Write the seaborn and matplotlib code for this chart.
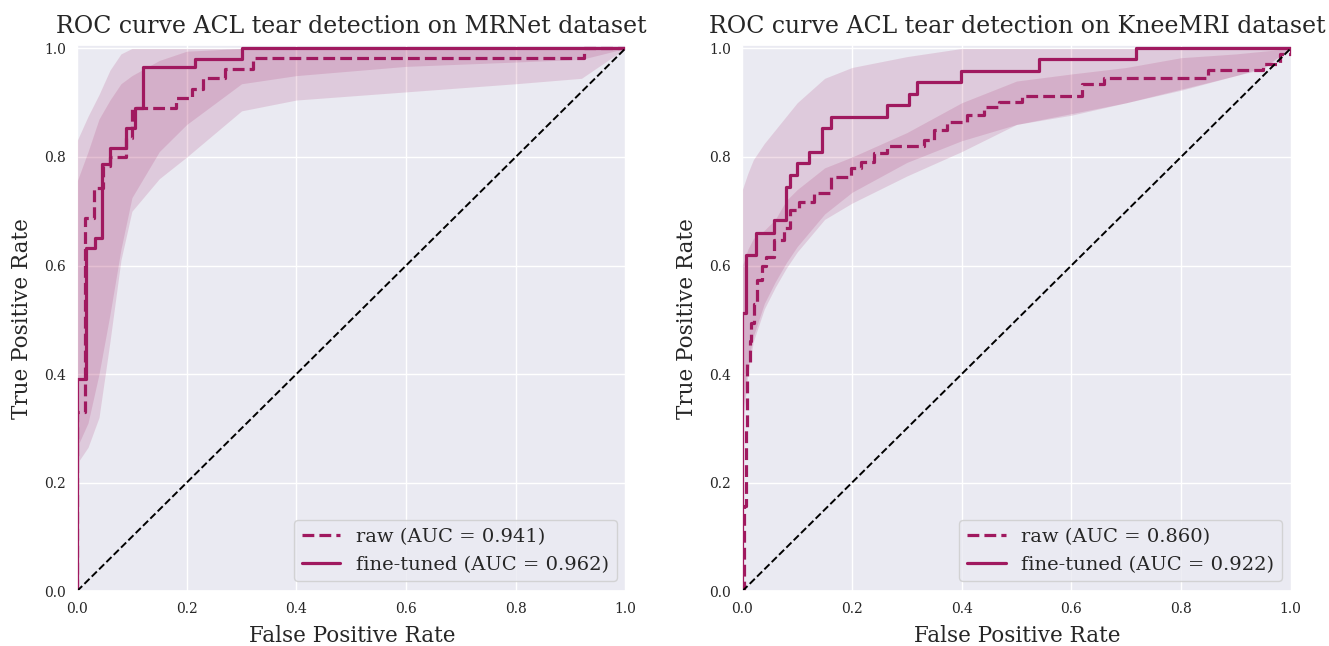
import matplotlib
matplotlib.use("Agg")
import matplotlib.pyplot as plt
import seaborn as sns
import numpy as np

# MRNet (left) step curves
mr_raw_fpr = [0, 0, 0.015, 0.03, 0.048, 0.06, 0.09, 0.1, 0.18, 0.21, 0.23, 0.27, 0.32, 0.924, 1.0]
mr_raw_tpr = [0, 0.33, 0.688, 0.743, 0.783, 0.80, 0.835, 0.89, 0.908, 0.926, 0.945, 0.963, 0.983, 1.0, 1.0]
mr_ft_fpr = [0, 0, 0.016, 0.033, 0.046, 0.06, 0.09, 0.105, 0.12, 0.215, 0.30, 1.0]
mr_ft_tpr = [0, 0.39, 0.632, 0.65, 0.787, 0.816, 0.853, 0.89, 0.965, 0.98, 1.0, 1.0]

# MRNet std bands
mr_band_fpr = [0, 0.02, 0.04, 0.06, 0.08, 0.1, 0.15, 0.2, 0.3, 0.4, 0.6, 0.8, 0.92, 1.0]
mr_ft_upper = [0.83, 0.875, 0.915, 0.96, 0.99, 1.0, 1, 1, 1, 1, 1, 1, 1, 1]
mr_ft_lower = [0.265, 0.31, 0.40, 0.51, 0.63, 0.725, 0.81, 0.86, 0.935, 0.95, 0.967, 0.975, 0.98, 1.0]
mr_raw_upper = [0.755, 0.81, 0.87, 0.905, 0.935, 0.95, 0.978, 0.995, 1, 1, 1, 1, 1, 1]
mr_raw_lower = [0.235, 0.265, 0.32, 0.46, 0.61, 0.70, 0.76, 0.80, 0.885, 0.905, 0.92, 0.935, 0.945, 1.0]

# KneeMRI (right) step curves
kn_raw_fpr = [0, 0.003, 0.006, 0.009, 0.013, 0.016, 0.022, 0.027, 0.035, 0.043, 0.058, 0.076, 0.086,
              0.104, 0.131, 0.162, 0.198, 0.216, 0.24, 0.264, 0.332, 0.35, 0.374, 0.41, 0.44, 0.468,
              0.51, 0.62, 0.66, 0.85, 0.95, 0.98, 1.0]
kn_raw_tpr = [0, 0.156, 0.3, 0.42, 0.46, 0.494, 0.53, 0.574, 0.6, 0.616, 0.647, 0.669, 0.702,
              0.717, 0.733, 0.763, 0.779, 0.79, 0.807, 0.82, 0.831, 0.849, 0.864, 0.877, 0.892, 0.901,
              0.913, 0.935, 0.945, 0.96, 0.972, 0.99, 1.0]
kn_ft_fpr = [0, 0, 0.007, 0.025, 0.058, 0.08, 0.087, 0.1, 0.122, 0.146, 0.162, 0.264, 0.304, 0.319,
             0.398, 0.541, 0.717, 1.0]
kn_ft_tpr = [0, 0.513, 0.62, 0.66, 0.684, 0.745, 0.767, 0.789, 0.809, 0.853, 0.873, 0.895, 0.917,
             0.9375, 0.958, 0.98, 1.0, 1.0]

# KneeMRI std bands
kn_band_fpr = [0, 0.01, 0.02, 0.04, 0.06, 0.08, 0.1, 0.15, 0.2, 0.3, 0.4, 0.5, 0.6, 0.7, 0.8, 0.9, 0.95, 1.0]
kn_ft_upper = [0.74, 0.77, 0.795, 0.825, 0.85, 0.875, 0.9, 0.945, 0.965, 0.985, 1.0, 1, 1, 1, 1, 1, 1, 1]
kn_ft_lower = [0.32, 0.42, 0.47, 0.53, 0.57, 0.605, 0.635, 0.695, 0.735, 0.79, 0.83, 0.86, 0.88, 0.9,
               0.925, 0.95, 0.965, 1.0]
kn_raw_upper = [0.6, 0.63, 0.65, 0.665, 0.685, 0.72, 0.74, 0.78, 0.80, 0.845, 0.9, 0.94, 0.953, 0.965,
                0.983, 0.99, 0.995, 1.0]
kn_raw_lower = [0.3, 0.4, 0.46, 0.52, 0.56, 0.595, 0.625, 0.685, 0.715, 0.765, 0.81, 0.86, 0.877, 0.9,
                0.923, 0.95, 0.962, 1.0]

raw_auc = [0.941, 0.860]
ft_auc = [0.962, 0.922]
titles = ["ROC curve ACL tear detection on MRNet dataset",
          "ROC curve ACL tear detection on KneeMRI dataset"]

sns.set_theme(style="darkgrid", font="DejaVu Serif")
color = "#a0195f"

fig, axes = plt.subplots(1, 2, figsize=(13.29, 6.46), dpi=100)
fig.subplots_adjust(left=0.058, right=0.972, bottom=0.085, top=0.93, wspace=0.211)

panels = [
    (mr_raw_fpr, mr_raw_tpr, mr_ft_fpr, mr_ft_tpr, mr_band_fpr, mr_raw_lower, mr_raw_upper, mr_ft_lower, mr_ft_upper),
    (kn_raw_fpr, kn_raw_tpr, kn_ft_fpr, kn_ft_tpr, kn_band_fpr, kn_raw_lower, kn_raw_upper, kn_ft_lower, kn_ft_upper),
]

for i, ax in enumerate(axes):
    rf, rt, ff, ft, bf, rl, ru, fl, fu = panels[i]
    ax.fill_between(bf, rl, ru, color=color, alpha=0.15, lw=0)
    ax.fill_between(bf, fl, fu, color=color, alpha=0.15, lw=0)
    sns.lineplot(x=rf, y=rt, ax=ax, color=color, lw=2.3, linestyle="--", estimator=None, sort=False,
                 drawstyle="steps-post", label=f"raw (AUC = {raw_auc[i]:.3f})")
    sns.lineplot(x=ff, y=ft, ax=ax, color=color, lw=2.3, estimator=None, sort=False,
                 drawstyle="steps-post", label=f"fine-tuned (AUC = {ft_auc[i]:.3f})")
    ax.plot([0, 1], [0, 1], color="black", lw=1.4, linestyle="--")
    ax.set_xlim(0, 1.002)
    ax.set_ylim(0, 1.006)
    ax.set_xticks([0, 0.2, 0.4, 0.6, 0.8, 1.0])
    ax.set_yticks([0, 0.2, 0.4, 0.6, 0.8, 1.0])
    ax.tick_params(labelsize=10, pad=2)
    ax.set_xlabel("False Positive Rate", fontsize=15.5, labelpad=6)
    ax.set_ylabel("True Positive Rate", fontsize=15.5, labelpad=8)
    ax.set_title(titles[i], fontsize=17, pad=9)
    ax.legend(loc="lower right", fontsize=14)

fig.savefig("out.png")
